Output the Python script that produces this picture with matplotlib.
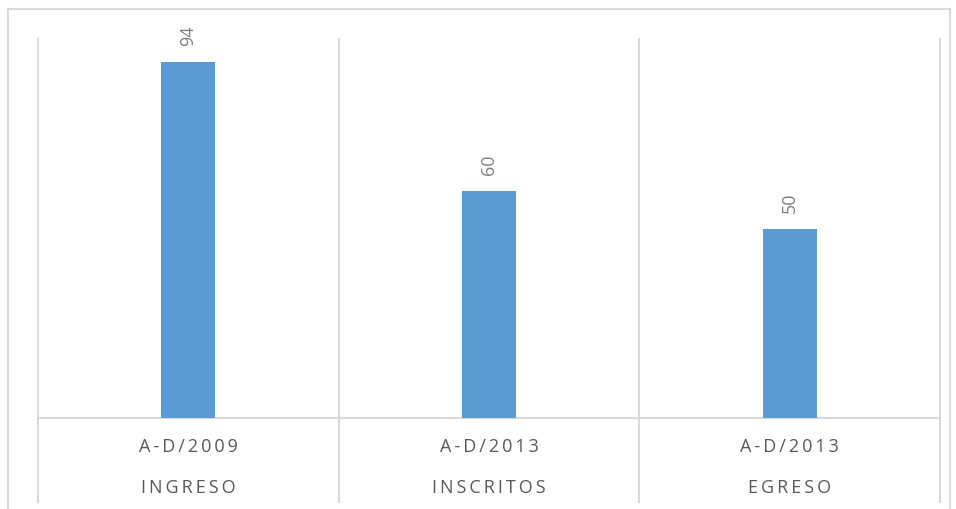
import matplotlib.pyplot as plt
from matplotlib.patches import Rectangle

years = ["A-D/2009", "A-D/2013", "A-D/2013"]
groups = ["INGRESO", "INSCRITOS", "EGRESO"]
values = [94, 60, 50]

plt.rcParams['font.family'] = ['Open Sans', 'DejaVu Sans']

def spaced(s):
    return "\u2009".join(s)

fig = plt.figure(figsize=(9.56, 5.1), dpi=100)
W, H = 956, 510
ax = fig.add_axes([38 / W, 1 - 419 / H, (940 - 38) / W, (419 - 40) / H])

x = range(len(values))
bars = ax.bar(x, values, width=0.18, color='#5B9BD5', zorder=3)
ax.set_xlim(-0.5, len(values) - 0.5)
ax.set_ylim(0, 100)

for s in ax.spines.values():
    s.set_visible(False)
ax.set_xticks([])
ax.set_yticks([])

grid = '#D9D9D9'
# baseline
ax.axhline(0, color=grid, lw=1.5, zorder=2, clip_on=False)
# category separators, extend down through the label rows
for b in [i - 0.5 for i in range(len(values) + 1)]:
    ax.plot([b, b], [-0.222, 1.0], color=grid, lw=1.5,
            transform=ax.get_xaxis_transform(), clip_on=False, zorder=1)

for i, v in enumerate(values):
    ax.annotate(str(v), (i, v), xytext=(0, 12), textcoords='offset points',
                rotation=90, ha='center', va='bottom', fontsize=13, color='#7F7F7F')
    ax.text(i, -0.074, spaced(years[i]), transform=ax.get_xaxis_transform(),
            ha='center', va='center', fontsize=13, color='#595959')
    ax.text(i, -0.182, spaced(groups[i]), transform=ax.get_xaxis_transform(),
            ha='center', va='center', fontsize=13, color='#595959')

# outer chart border
fig.patches.append(Rectangle((8 / W, -0.02), (950 - 8) / W, 1 - 10 / H + 0.02,
                             transform=fig.transFigure, fill=False,
                             edgecolor=grid, lw=1.5))

fig.savefig("out.png", dpi=100)
